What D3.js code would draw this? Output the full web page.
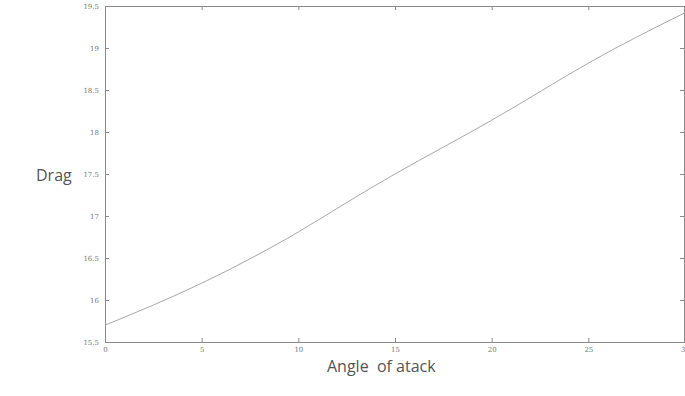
<!DOCTYPE html>
<html>
<head>
<meta charset="utf-8">
<script src="https://cdn.jsdelivr.net/npm/d3@7"></script>
<style>
  body { margin: 0; background: #fff; }
  .tick text { font-family: "DejaVu Serif", serif; font-size: 7px; fill: #777; }
  .label { font-family: "Open Sans", sans-serif; font-size: 16px; fill: #555; }
</style>
</head>
<body>
<div id="chart-area"></div>
<script>
// angle of attack (deg) vs drag
var angle = [0, 2.5, 5, 7.5, 10, 12.5, 15, 17.5, 20, 22.5, 25, 27.5, 30]
var drag = [15.7, 15.94, 16.2, 16.49, 16.81, 17.16, 17.5, 17.82, 18.14, 18.48, 18.82, 19.13, 19.42]
var xTicks = [0, 5, 10, 15, 20, 25, 30]
var yTicks = [15.5, 16, 16.5, 17, 17.5, 18, 18.5, 19, 19.5]

var margin = {left:105, right:0, top:6, bottom:54}
var width = 685 - margin.left - margin.right
var height = 396 - margin.top - margin.bottom

var svg = d3.select("#chart-area").append("svg")
    .attr('width', 685)
    .attr('height', 396)

var g = svg.append("g")
  .attr("transform", "translate(" + margin.left + "," + margin.top + ")")

var x = d3.scaleLinear().domain([0, 30]).range([0, width])
var y = d3.scaleLinear().domain([15.5, 19.5]).range([height, 0])

// matlab style axes, ticks pointing inward
var xAxisCall = d3.axisBottom(x).tickValues(xTicks).tickSize(-4).tickPadding(5)
g.append("g")
  .attr("class", "x axis")
  .attr("transform", "translate(0," + height + ")")
  .call(xAxisCall)

var yAxisCall = d3.axisLeft(y).tickValues(yTicks).tickSize(-4).tickPadding(6)
  .tickFormat(function(d) { return String(d) })
g.append("g")
  .attr("class", "y axis")
  .call(yAxisCall)

g.append("g")
  .call(d3.axisTop(x).tickValues(xTicks).tickSize(-4).tickFormat(""))

g.append("g")
  .attr("transform", "translate(" + (width - 1) + ",0)")
  .call(d3.axisRight(y).tickValues(yTicks).tickSize(-4).tickFormat(""))

g.selectAll(".domain").attr("stroke", "#8a8a8a").attr("stroke-width", 1)
g.selectAll(".tick line").attr("stroke", "#8a8a8a")

var valueline = d3.line()
  .x(function(d, i) { return x(angle[i]) })
  .y(function(d) { return y(d) })
  .curve(d3.curveNatural)

g.append("path")
  .datum(drag)
  .attr("fill", "none")
  .attr("stroke", "#a8a8a8")
  .attr("stroke-width", 1)
  .attr("d", valueline)

svg.append("text")
  .attr("class", "label")
  .attr("x", 36)
  .attr("y", 181)
  .text("Drag")

svg.append("text")
  .attr("class", "label")
  .attr("x", 327)
  .attr("y", 372)
  .attr("xml:space", "preserve")
  .text("Angle  of atack")
</script>
</body>
</html>
